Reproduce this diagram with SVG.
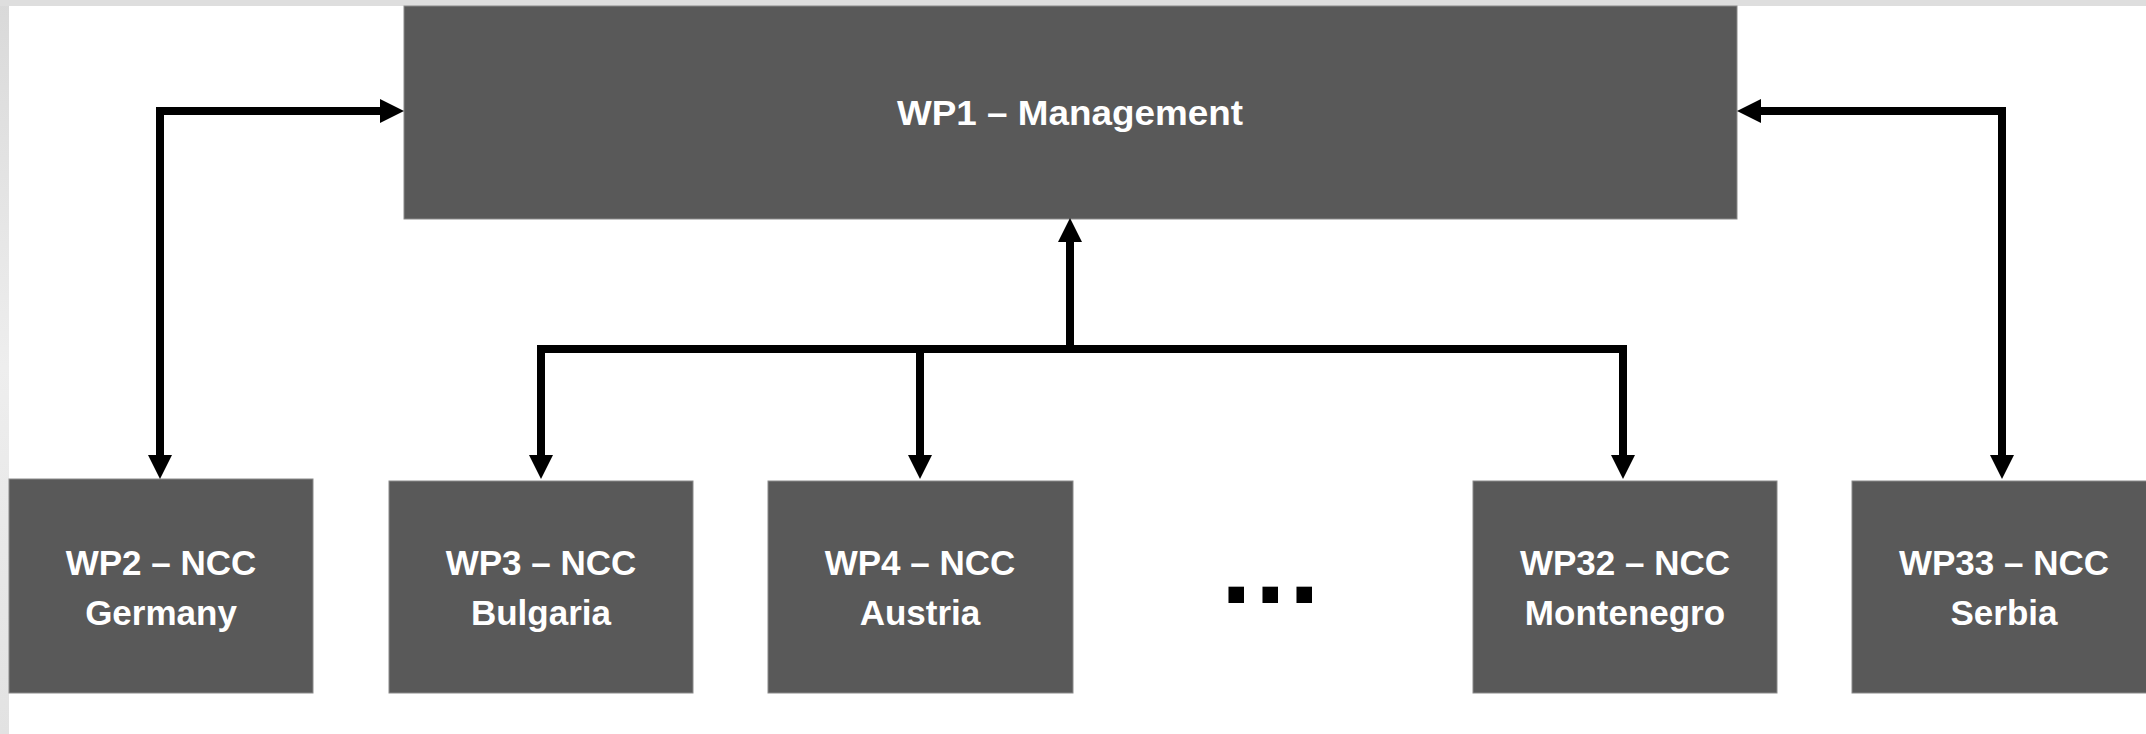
<svg xmlns="http://www.w3.org/2000/svg" width="2146" height="734" viewBox="0 0 2146 734">
<style>
.box{fill:#595959;stroke:#8a8a8a;stroke-width:1}
.lbl{font-family:"Liberation Sans",Arial,sans-serif;font-weight:bold;font-size:35px;fill:#ffffff;text-anchor:middle}
.con{fill:none;stroke:#000;stroke-width:8;stroke-linejoin:miter;stroke-linecap:butt}
</style>
<defs>
<linearGradient id="side" x1="0" y1="0" x2="0" y2="1">
<stop offset="0" stop-color="#d9d9d9"/>
<stop offset="0.5" stop-color="#eeeeee"/>
<stop offset="1" stop-color="#e2e2e2"/>
</linearGradient>
<marker id="ah" markerUnits="userSpaceOnUse" markerWidth="24" markerHeight="24" refX="4" refY="12" orient="auto-start-reverse" viewBox="0 0 24 24">
<path d="M0,0 L24,12 L0,24 Z" fill="#000"/>
</marker>
</defs>
<rect x="0" y="0" width="2146" height="734" fill="#ffffff"/>
<rect x="0" y="0" width="9" height="734" fill="url(#side)"/>
<rect x="0" y="0" width="2146" height="6" fill="#dedede"/>

<g id="wp1">
<rect class="box" x="404" y="6" width="1333" height="213"/>
<text class="lbl" x="1070" y="125" font-size="34" textLength="346" lengthAdjust="spacingAndGlyphs">WP1 – Management</text>
</g>
<g id="wp2">
<rect class="box" x="9" y="479" width="304" height="214"/>
<text class="lbl" x="161" y="575">WP2 – NCC</text>
<text class="lbl" x="161" y="625">Germany</text>
</g>
<g id="wp3">
<rect class="box" x="389" y="481" width="304" height="212"/>
<text class="lbl" x="541" y="575">WP3 – NCC</text>
<text class="lbl" x="541" y="625">Bulgaria</text>
</g>
<g id="wp4">
<rect class="box" x="768" y="481" width="305" height="212"/>
<text class="lbl" x="920" y="575">WP4 – NCC</text>
<text class="lbl" x="920" y="625">Austria</text>
</g>
<g id="ellipsis">
<text x="1272" y="603" font-family="Liberation Sans,Arial,sans-serif" font-weight="bold" font-size="110" letter-spacing="3.4" text-anchor="middle" fill="#000">...</text>
</g>
<g id="wp32">
<rect class="box" x="1473" y="481" width="304" height="212"/>
<text class="lbl" x="1625" y="575">WP32 – NCC</text>
<text class="lbl" x="1625" y="625">Montenegro</text>
</g>
<g id="wp33">
<rect class="box" x="1852" y="481" width="304" height="212"/>
<text class="lbl" x="2004" y="575">WP33 – NCC</text>
<text class="lbl" x="2004" y="625">Serbia</text>
</g>

<g id="connectors">
<path class="con" d="M160,459 V111 H384" marker-start="url(#ah)" marker-end="url(#ah)"/>
<path class="con" d="M2002,459 V111 H1757" marker-start="url(#ah)" marker-end="url(#ah)"/>
<path class="con" d="M1070,353 V238" marker-end="url(#ah)"/>
<path class="con" d="M541,459 V349 H1623 V459" marker-start="url(#ah)" marker-end="url(#ah)"/>
<path class="con" d="M920,349 V459" marker-end="url(#ah)"/>
</g>
</svg>
